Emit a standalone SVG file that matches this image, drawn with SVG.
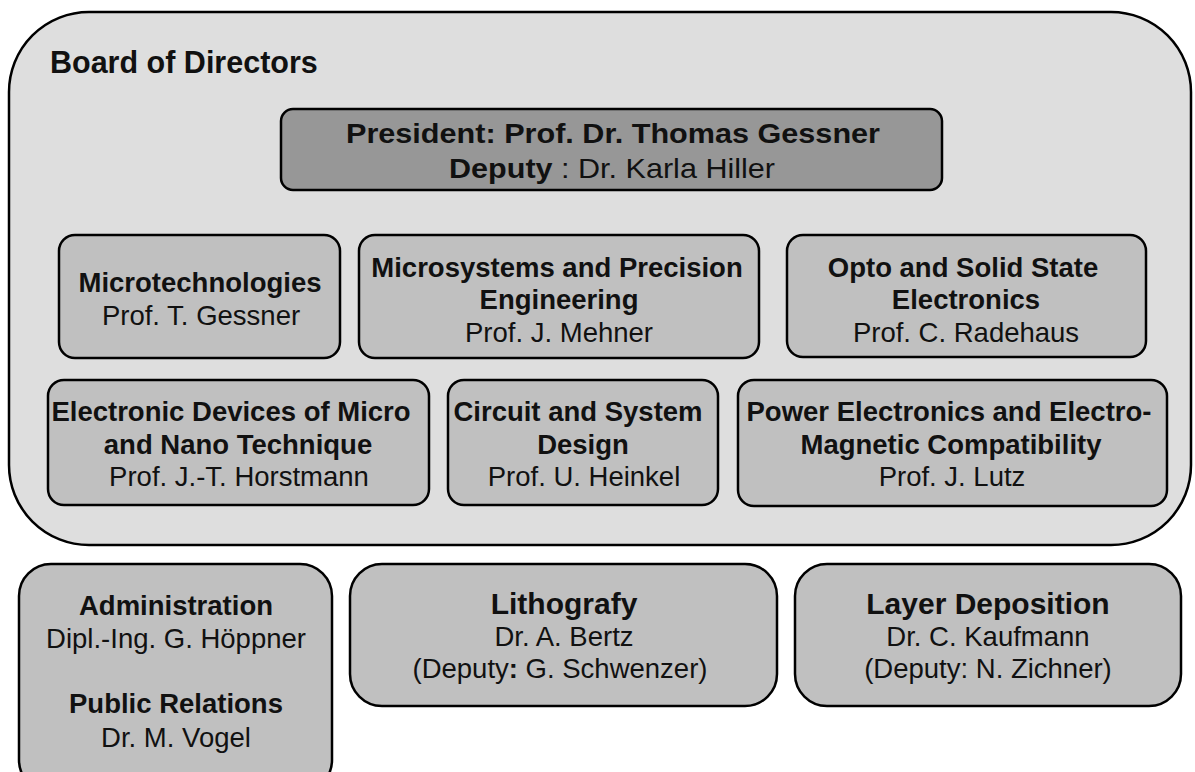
<svg xmlns="http://www.w3.org/2000/svg" width="1195" height="772" viewBox="0 0 1195 772">
  <style>
    .board { fill: #dedede; stroke: #000; stroke-width: 2.5; }
    .pres { fill: #979797; stroke: #000; stroke-width: 2.5; }
    .unit { fill: #c0c0c0; stroke: #000; stroke-width: 2.5; }
    text { font-family: "Liberation Sans", Arial, sans-serif; fill: #111; text-anchor: middle; }
    .b { font-weight: bold; }
    .t { font-size: 27.5px; }
    .big { font-size: 30px; }
    .head { font-size: 28px; }
  </style>
  <rect width="1195" height="772" fill="#ffffff"/>

  <g id="board">
    <rect class="board" x="9" y="12" width="1182" height="533" rx="80" ry="80"/>
    <text x="50" y="73" class="b" style="font-size:30.5px;text-anchor:start">Board of Directors</text>
  </g>

  <g id="president">
    <rect class="pres" x="281" y="109" width="661" height="81" rx="12" ry="12"/>
    <text x="346" y="143" class="b head" style="text-anchor:start" textLength="534" lengthAdjust="spacingAndGlyphs">President: Prof. Dr. Thomas Gessner</text>
    <text x="449" y="178" class="head" style="text-anchor:start" textLength="326" lengthAdjust="spacingAndGlyphs"><tspan class="b">Deputy</tspan> : Dr. Karla Hiller</text>
  </g>

  <g id="microtechnologies">
    <rect class="unit" x="59" y="235" width="281" height="123" rx="16" ry="16"/>
    <text x="200" y="292" class="b t">Microtechnologies</text>
    <text x="201" y="325" class="t">Prof. T. Gessner</text>
  </g>

  <g id="microsystems">
    <rect class="unit" x="359" y="235" width="400" height="123" rx="16" ry="16"/>
    <text x="557" y="277" class="b t">Microsystems and Precision</text>
    <text x="559" y="309" class="b t">Engineering</text>
    <text x="559" y="342" class="t">Prof. J. Mehner</text>
  </g>

  <g id="opto">
    <rect class="unit" x="787" y="235" width="359" height="122" rx="16" ry="16"/>
    <text x="963" y="277" class="b t">Opto and Solid State</text>
    <text x="966" y="309" class="b t">Electronics</text>
    <text x="966" y="342" class="t">Prof. C. Radehaus</text>
  </g>

  <g id="electronic-devices">
    <rect class="unit" x="48" y="380" width="381" height="125" rx="16" ry="16"/>
    <text x="231" y="421" class="b t">Electronic Devices of Micro</text>
    <text x="238" y="454" class="b t">and Nano Technique</text>
    <text x="239" y="486" class="t">Prof. J.-T. Horstmann</text>
  </g>

  <g id="circuit-design">
    <rect class="unit" x="448" y="380" width="270" height="125" rx="16" ry="16"/>
    <text x="578" y="421" class="b t">Circuit and System</text>
    <text x="583" y="454" class="b t">Design</text>
    <text x="584" y="486" class="t">Prof. U. Heinkel</text>
  </g>

  <g id="power-electronics">
    <rect class="unit" x="738" y="380" width="429" height="126" rx="16" ry="16"/>
    <text x="949" y="421" class="b t">Power Electronics and Electro-</text>
    <text x="951" y="454" class="b t">Magnetic Compatibility</text>
    <text x="952" y="486" class="t">Prof. J. Lutz</text>
  </g>

  <g id="administration">
    <rect class="unit" x="19" y="564" width="313" height="228" rx="32" ry="32"/>
    <text x="176" y="615" class="b t">Administration</text>
    <text x="176" y="648" class="t">Dipl.-Ing. G. Höppner</text>
    <text x="176" y="713" class="b t">Public Relations</text>
    <text x="176" y="747" class="t">Dr. M. Vogel</text>
  </g>

  <g id="lithografy">
    <rect class="unit" x="350" y="564" width="427" height="142" rx="32" ry="32"/>
    <text x="564" y="614" class="b big">Lithografy</text>
    <text x="564" y="646" class="t">Dr. A. Bertz</text>
    <text x="560" y="678" class="t">(Deputy<tspan class="b">:</tspan> G. Schwenzer)</text>
  </g>

  <g id="layer-deposition">
    <rect class="unit" x="795" y="564" width="386" height="142" rx="32" ry="32"/>
    <text x="988" y="614" class="b big">Layer Deposition</text>
    <text x="988" y="646" class="t">Dr. C. Kaufmann</text>
    <text x="988" y="678" class="t">(Deputy: N. Zichner)</text>
  </g>

  <g id="connectors"></g>
</svg>
